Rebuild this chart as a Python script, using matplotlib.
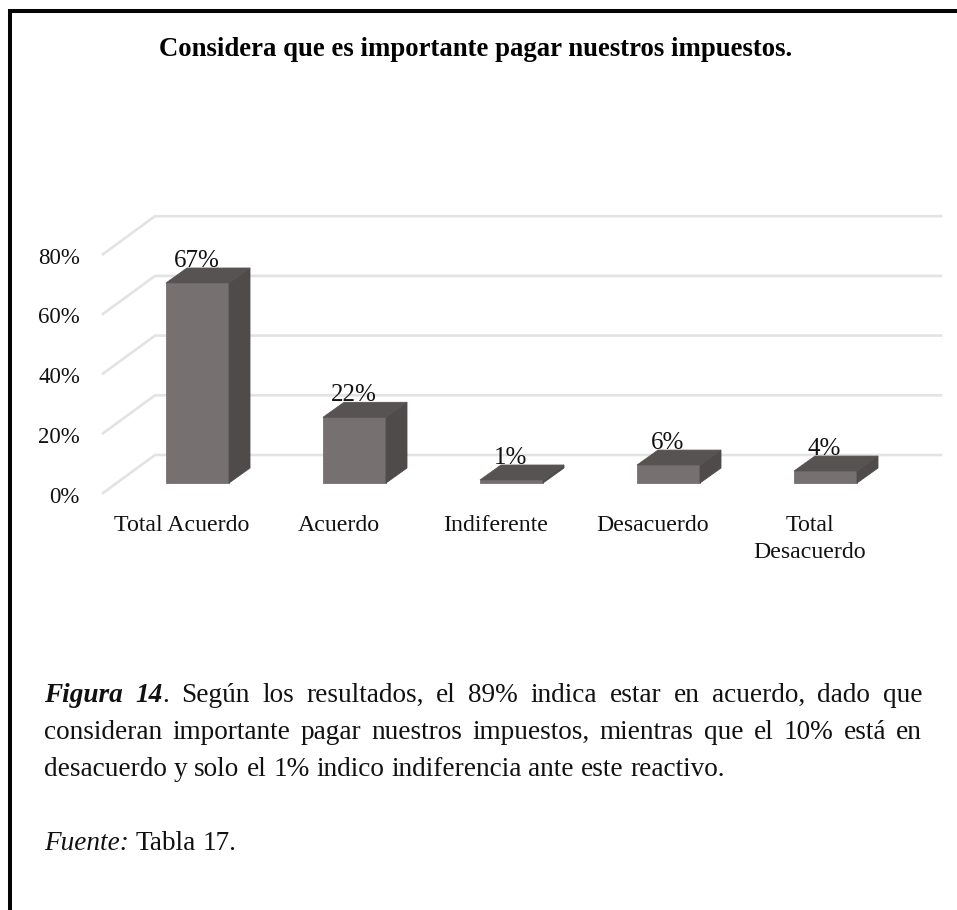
import matplotlib
matplotlib.use("Agg")
import matplotlib.pyplot as plt
from matplotlib.patches import Polygon

plt.rcParams['font.family'] = ['Liberation Serif', 'DejaVu Serif']

categories = ["Total Acuerdo", "Acuerdo", "Indiferente", "Desacuerdo", "Total\nDesacuerdo"]
values = [67, 22, 1, 6, 4]
ticks = [0, 20, 40, 60, 80]
title = "Considera que es importante pagar nuestros impuestos."
caption_lines = [
    [("Figura 14", "bi"), (". Según los resultados, el 89% indica estar en acuerdo, dado que", "r")],
    [("consideran importante pagar nuestros impuestos, mientras que el 10% está en", "r")],
    [("desacuerdo y solo el 1% indico indiferencia ante este reactivo.", "r")],
]
source = [("Fuente:", "i"), (" Tabla 17.", "r")]

W, H = 957, 910
PX_X, PX_Y = 157.0, 2.985   # pixels per category / per percent
X0, Y0 = 197.5, 483.0       # pixel of category 0 / of 0 %
FRONT, SIDE, TOP, GRID = "#767170", "#4f4b4a", "#575352", "#e3e3e3"

fig = plt.figure(figsize=(W / 100, H / 100), dpi=100, facecolor="white")
ax = fig.add_axes([0, 0, 1, 1])
ax.set_xlim(-X0 / PX_X, (W - X0) / PX_X)
ax.set_ylim((Y0 - H) / PX_Y, Y0 / PX_Y)
ax.axis("off")
page = fig.add_axes([0, 0, 1, 1], facecolor="none")
page.set_xlim(0, W)
page.set_ylim(H, 0)
page.axis("off")

dx = lambda p: p / PX_X
dy = lambda p: p / PX_Y

# wall and floor gridlines
xf, xb, xr = (103 - X0) / PX_X, (155 - X0) / PX_X, (941 - X0) / PX_X
for t in ticks:
    ax.plot([xf, xb, xr], [t + dy(-10), t + dy(28), t + dy(28)], color=GRID, lw=1.9,
            solid_joinstyle="miter", zorder=1)
    ax.annotate(f"{t}%", xy=(xf, t), xytext=(-23, -14), textcoords="offset pixels",
                ha="right", va="center", fontsize=16.5, color="#111111", zorder=5)

# bars
bw = 63 / PX_X
ddx, ddy = dx(21), dy(15)
for i, (c, v) in enumerate(zip(categories, values)):
    l, r = i - bw / 2, i + bw / 2
    ax.add_patch(Polygon([(l, 0), (r, 0), (r, v), (l, v)], fc=FRONT, ec=FRONT, lw=0.6, zorder=3))
    ax.add_patch(Polygon([(r, 0), (r + ddx, ddy), (r + ddx, v + ddy), (r, v)], fc=SIDE, ec=SIDE, lw=0.6, zorder=3))
    ax.add_patch(Polygon([(l, v), (r, v), (r + ddx, v + ddy), (l + ddx, v + ddy)], fc=TOP, ec=TOP, lw=0.6, zorder=3))
    ax.annotate(f"{v}%", xy=(i, v), xytext=(-1, 16.5), textcoords="offset pixels",
                ha="center", va="baseline", fontsize=18, color="#111111", zorder=6)
    ax.annotate(c, xy=(i, 0), xytext=(-16, -32), textcoords="offset pixels",
                ha="center", va="top", fontsize=17.2, linespacing=1.35, color="#111111", zorder=5)

# frame (open on right and bottom)
page.plot([10, 10, W], [H, 10.5, 10.5], color="#050505", lw=2.9, solid_joinstyle="miter",
          solid_capstyle="butt", zorder=8)

page.text(476, 56, title, ha="center", va="baseline", fontsize=19.3, fontweight="bold", color="black")

STYLE = {"r": dict(), "i": dict(style="italic"), "bi": dict(style="italic", weight="bold")}
FS = 19.6
renderer = fig.canvas.get_renderer()

def word_width(w, st):
    t = page.text(0, 0, w, fontsize=FS, **STYLE[st])
    wd = t.get_window_extent(renderer).width
    t.remove()
    return wd

def draw_line(parts, x, y, right=None):
    tokens = []
    for s, st in parts:
        pieces = s.split(" ")
        for j, p in enumerate(pieces):
            if j > 0:
                tokens.append(None)
            if p:
                tokens.append((p, st))
    space = word_width("a a", "r") - word_width("aa", "r")
    gaps = tokens.count(None)
    if right is not None and gaps:
        total = sum(word_width(*t) for t in tokens if t)
        space = (right - x - total) / gaps
    for t in tokens:
        if t is None:
            x += space
        else:
            page.text(x, y, t[0], fontsize=FS, va="baseline", ha="left", color="#111111", **STYLE[t[1]])
            x += word_width(*t)

draw_line(caption_lines[0], 44, 702, right=922)
draw_line(caption_lines[1], 44, 739, right=922)
draw_line(caption_lines[2], 44, 776)
draw_line(source, 44, 850)

fig.savefig("out.png", dpi=100, facecolor="white")
